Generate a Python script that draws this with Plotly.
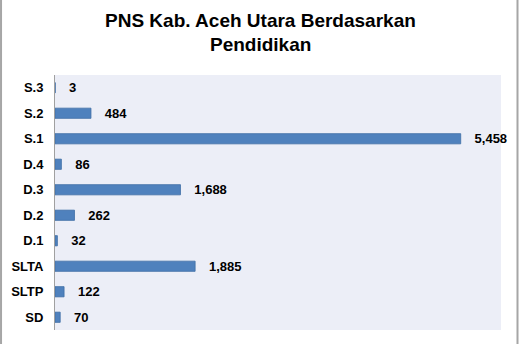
import plotly.graph_objects as go

categories = ["S.3", "S.2", "S.1", "D.4", "D.3", "D.2", "D.1", "SLTA", "SLTP", "SD"]
values = [3, 484, 5458, 86, 1688, 262, 32, 1885, 122, 70]
title_lines = ["PNS Kab. Aceh Utara Berdasarkan", "Pendidikan"]

FONT = "Liberation Sans, Arial, sans-serif"

fig = go.Figure(go.Bar(
    x=values,
    y=categories,
    orientation="h",
    marker=dict(color="#4f81bd", line=dict(color="#3f6ea6", width=0.8)),
    texttemplate="   <b>%{x:,}</b>",
    textposition="outside",
    constraintext="none",
    textfont=dict(family=FONT, size=13, color="#000000"),
    cliponaxis=False,
    width=0.4,
))

# title as two annotations (pixel rows ~20 and ~45 in a 255px-high plot area starting at y=75)
title_y = [(330 - 20) / 255, (330 - 45) / 255]
annotations = [
    dict(text="<b>" + t + "</b>", x=(260.5 - 55) / 446, xref="paper", y=yy, yref="paper",
         xanchor="center", yanchor="middle", showarrow=False,
         font=dict(family=FONT, size=19, color="#000000"))
    for t, yy in zip(title_lines, title_y)
]

fig.update_layout(
    width=521, height=344,
    margin=dict(l=55, r=20, t=75, b=14, autoexpand=False),
    paper_bgcolor="white",
    plot_bgcolor="#eceef7",
    showlegend=False,
    font=dict(family=FONT, color="#000000"),
    annotations=annotations,
    shapes=[
        dict(type="line", xref="paper", yref="paper", x0=-0.121, x1=-0.121, y0=-0.06, y1=1.3,
             line=dict(color="#a6a6a6", width=2)),
        dict(type="line", xref="paper", yref="paper", x0=1.037, x1=1.037, y0=-0.06, y1=1.3,
             line=dict(color="#a6a6a6", width=2)),
    ],
)

fig.update_xaxes(range=[0, 6000], showticklabels=False, showgrid=False, zeroline=False,
                 showline=False, ticks="", automargin=False)
fig.update_yaxes(autorange="reversed", showgrid=False, zeroline=False,
                 showline=True, linecolor="#a0a0a0", linewidth=1,
                 ticks="", ticklabelstandoff=8, automargin=False,
                 tickfont=dict(size=13, family=FONT, color="#000000"),
                 tickprefix="<b>", ticksuffix="</b>")

fig.write_html("out.html")
